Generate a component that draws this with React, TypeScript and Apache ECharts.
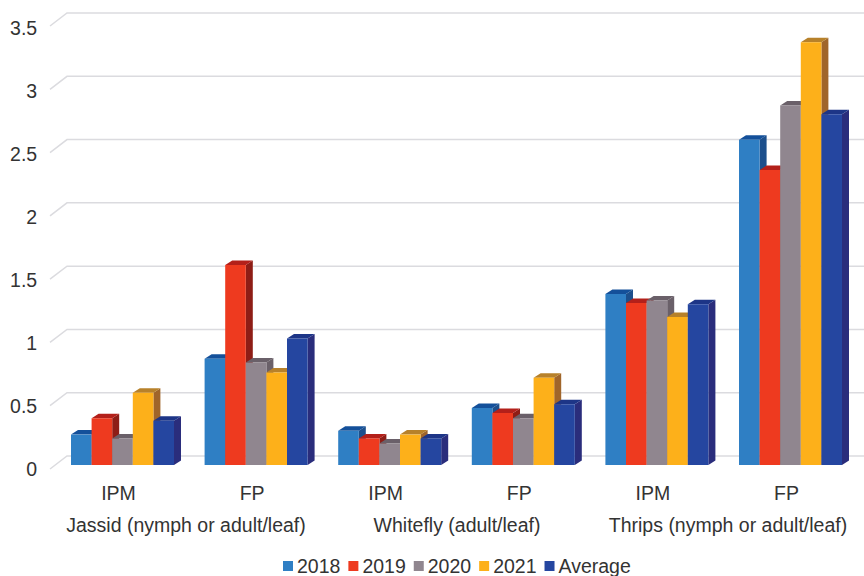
import React, { useEffect, useRef } from "react";
import * as echarts from "echarts";

const subCategories = ["IPM", "FP", "IPM", "FP", "IPM", "FP"];
const groups = ["Jassid (nymph or adult/leaf)", "Whitefly (adult/leaf)", "Thrips (nymph or adult/leaf)"];
const ticks = [0, 0.5, 1, 1.5, 2, 2.5, 3, 3.5];
const y2018 = [0.24, 0.84, 0.27, 0.45, 1.35, 2.57];
const y2019 = [0.37, 1.58, 0.21, 0.41, 1.28, 2.33];
const y2020 = [0.21, 0.81, 0.17, 0.37, 1.3, 2.84];
const y2021 = [0.57, 0.73, 0.24, 0.69, 1.17, 3.34];
const yAverage = [0.35, 1.0, 0.21, 0.48, 1.27, 2.77];

const names = ["2018", "2019", "2020", "2021", "Average"];
const valueSets = [y2018, y2019, y2020, y2021, yAverage];
const fronts = ["#2f7fc4", "#ee3a1f", "#90868f", "#fdb01a", "#2546a0"];
const tops = ["#14509a", "#b3201a", "#6a6069", "#b7812a", "#1d3587"];
const sides = ["#1c4f8c", "#8e1d16", "#6a6069", "#a0652a", "#2a2d7c"];

const FONT = "Liberation Sans";
const FONT_SIZE = 19.5;
const TEXT = "#333333";
const DX = 7;
const DY = 4.5;
const GROUP_SHARE = 103 / 133.6;

const barSeries = (i: number) => ({
  type: "custom",
  name: names[i],
  xAxisIndex: 0,
  yAxisIndex: 0,
  clip: false,
  itemStyle: { color: fronts[i] },
  data: valueSets[i].map((v, c) => [c, v]),
  renderItem: (_: any, api: any) => {
    const [cx, yTop] = api.coord([api.value(0), api.value(1)]);
    const [, yBase] = api.coord([api.value(0), 0]);
    const band = api.size([1, 0])[0];
    const w = (band * GROUP_SHARE) / 5;
    const x = cx - (band * GROUP_SHARE) / 2 + i * w;
    return {
      type: "group",
      children: [
        {
          type: "polygon",
          shape: { points: [[x + w, yTop], [x + w + DX, yTop - DY], [x + w + DX, yBase - DY], [x + w, yBase]] },
          style: { fill: sides[i] },
        },
        {
          type: "polygon",
          shape: { points: [[x, yTop], [x + DX, yTop - DY], [x + w + DX, yTop - DY], [x + w, yTop]] },
          style: { fill: tops[i] },
        },
        { type: "rect", shape: { x, y: yTop, width: w, height: yBase - yTop }, style: { fill: fronts[i] } },
      ],
    };
  },
});

const hiddenValue = { type: "value", min: 0, max: 3.5, interval: 0.5, show: false };

export default function App() {
  const ref = useRef<HTMLDivElement>(null);
  useEffect(() => {
    const chart = echarts.init(ref.current!, null, { renderer: "svg" });
    chart.setOption({
      animation: false,
      backgroundColor: "#ffffff",
      grid: [
        { left: 55.7, width: 801.6, top: 21.9, height: 443.1 },
        { left: 67, width: 797, top: 13, height: 443 },
        { left: 51.7, width: 801.6, top: 27.5, height: 441 },
        { left: 50.5, width: 813, top: 27, height: 440 },
      ],
      xAxis: [
        { gridIndex: 0, type: "category", data: subCategories, show: false },
        { gridIndex: 1, type: "value", min: 0, max: 1, show: false },
        {
          gridIndex: 2,
          type: "category",
          data: subCategories,
          axisLine: { show: false },
          axisTick: { show: false },
          axisLabel: { fontFamily: FONT, fontSize: FONT_SIZE, color: TEXT, margin: 14, interval: 0 },
        },
        {
          gridIndex: 3,
          type: "category",
          data: groups,
          axisLine: { show: false },
          axisTick: { show: false },
          axisLabel: { fontFamily: FONT, fontSize: FONT_SIZE, color: TEXT, margin: 48, interval: 0 },
        },
      ],
      yAxis: [
        { gridIndex: 0, ...hiddenValue },
        { gridIndex: 1, ...hiddenValue },
        {
          gridIndex: 2,
          type: "value",
          min: 0,
          max: 3.5,
          interval: 0.5,
          axisLine: { show: false },
          axisTick: { show: false },
          splitLine: { show: false },
          axisLabel: { fontFamily: FONT, fontSize: FONT_SIZE, color: TEXT, margin: 14.5 },
        },
        { gridIndex: 3, ...hiddenValue },
      ],
      legend: {
        data: names,
        left: 283,
        top: 556,
        itemWidth: 10,
        itemHeight: 10,
        itemGap: 8,
        icon: "rect",
        padding: 0,
        textStyle: { fontFamily: FONT, fontSize: FONT_SIZE, color: TEXT, padding: [0, 0, 0, -1] },
      },
      series: [
        {
          type: "custom",
          name: "wall",
          xAxisIndex: 1,
          yAxisIndex: 1,
          clip: false,
          silent: true,
          data: ticks.map((t) => [t]),
          renderItem: (_: any, api: any) => {
            const [x0, y] = api.coord([0, api.value(0)]);
            const [x1] = api.coord([1, api.value(0)]);
            return {
              type: "polyline",
              shape: { points: [[x0 - 17, y + 13], [x0, y], [x1, y]] },
              style: { fill: "none", stroke: "#dbdbdf", lineWidth: 1.5 },
            };
          },
        },
        ...names.map((_, i) => barSeries(i)),
      ],
    });
    return () => chart.dispose();
  }, []);
  return <div ref={ref} style={{ position: "absolute", left: 0, top: 0, width: 864, height: 576 }} />;
}
